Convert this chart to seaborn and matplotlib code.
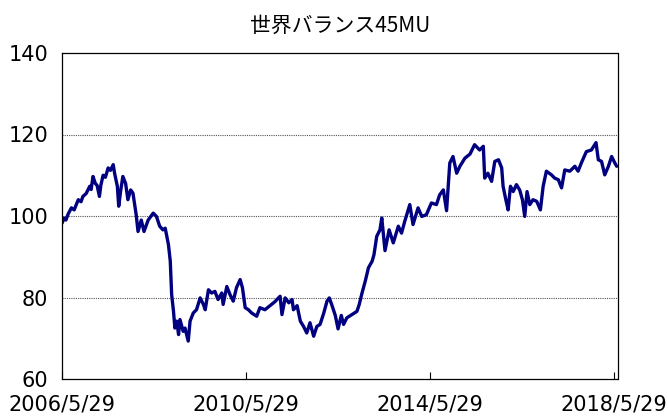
import matplotlib
matplotlib.use("Agg")
import matplotlib.pyplot as plt
import seaborn as sns
import pandas as pd
import numpy as np

# Time (decimal years) and index value
years = [
    2006.41, 2006.45, 2006.49, 2006.54, 2006.61, 2006.67, 2006.76, 2006.82, 2006.86, 2006.93,
    2007.01, 2007.04, 2007.08, 2007.13, 2007.17, 2007.22, 2007.25, 2007.30, 2007.35, 2007.41,
    2007.46, 2007.52, 2007.55, 2007.61, 2007.64, 2007.68, 2007.73, 2007.79, 2007.84, 2007.90,
    2007.95, 2008.02, 2008.06, 2008.13, 2008.19, 2008.28, 2008.39, 2008.46, 2008.53, 2008.60,
    2008.65, 2008.72, 2008.76, 2008.79, 2008.83, 2008.86, 2008.90, 2008.94, 2008.97, 2009.04,
    2009.08, 2009.15, 2009.19, 2009.26, 2009.33, 2009.41, 2009.48, 2009.52, 2009.59, 2009.66,
    2009.73, 2009.80, 2009.88, 2009.91, 2009.99, 2010.06, 2010.13, 2010.20, 2010.28, 2010.33,
    2010.39, 2010.46, 2010.53, 2010.64, 2010.71, 2010.82, 2010.93, 2011.04, 2011.08, 2011.15,
    2011.19, 2011.26, 2011.34, 2011.41, 2011.44, 2011.52, 2011.59, 2011.66, 2011.73, 2011.80,
    2011.88, 2011.95, 2012.02, 2012.10, 2012.17, 2012.22, 2012.28, 2012.35, 2012.41, 2012.48,
    2012.53, 2012.60, 2012.71, 2012.82, 2012.87, 2012.93, 2013.00, 2013.07, 2013.15, 2013.19,
    2013.25, 2013.32, 2013.36, 2013.43, 2013.52, 2013.61, 2013.72, 2013.79, 2013.86, 2013.97,
    2014.04, 2014.15, 2014.23, 2014.33, 2014.44, 2014.55, 2014.62, 2014.70, 2014.77, 2014.84,
    2014.91, 2014.99, 2015.06, 2015.17, 2015.28, 2015.38, 2015.49, 2015.57, 2015.60, 2015.67,
    2015.75, 2015.82, 2015.90, 2015.97, 2016.00, 2016.06, 2016.11, 2016.16, 2016.22, 2016.29,
    2016.36, 2016.42, 2016.47, 2016.52, 2016.58, 2016.65, 2016.73, 2016.81, 2016.87, 2016.94,
    2017.05, 2017.12, 2017.20, 2017.27, 2017.34, 2017.45, 2017.56, 2017.63, 2017.70, 2017.81,
    2017.92, 2018.02, 2018.07, 2018.14, 2018.21, 2018.29, 2018.36, 2018.43, 2018.47,
]
values = [
    98.3, 99.5, 99.0, 100.5, 102.0, 101.5, 104.0, 103.5, 104.8, 105.5,
    107.3, 106.5, 109.7, 108.0, 107.5, 104.8, 107.5, 110.0, 109.5, 111.8,
    111.2, 112.6, 110.5, 107.3, 102.4, 106.0, 109.7, 108.0, 104.0, 106.4,
    105.6, 100.3, 96.2, 99.0, 96.2, 99.0, 100.7, 99.9, 97.5, 96.6,
    97.0, 93.0, 88.9, 80.7, 76.6, 72.5, 74.2, 70.9, 74.6, 71.7,
    72.5, 69.3, 74.2, 76.2, 77.0, 79.9, 78.3, 77.0, 81.9, 81.1,
    81.5, 79.5, 81.1, 78.3, 82.7, 80.7, 79.1, 82.4, 84.4, 82.4,
    77.5, 77.0, 76.2, 75.4, 77.5, 77.0, 78.0, 79.0, 79.5, 80.3,
    75.8, 79.9, 78.7, 79.5, 77.0, 78.0, 74.2, 72.9, 71.3, 73.8,
    70.5, 72.9, 73.4, 76.2, 79.1, 79.9, 78.0, 75.6, 72.3, 75.6,
    73.4, 75.0, 75.8, 76.6, 78.3, 81.1, 84.0, 87.3, 88.9, 90.5,
    95.0, 96.6, 99.5, 91.5, 96.6, 93.4, 97.5, 95.8, 98.7, 102.8,
    97.9, 102.0, 99.9, 100.3, 103.2, 102.8, 105.2, 106.4, 101.3, 113.0,
    114.6, 110.5, 112.2, 114.2, 115.2, 117.5, 116.2, 117.1, 109.3, 110.5,
    108.5, 113.4, 113.8, 111.8, 107.3, 104.0, 101.5, 107.3, 106.0, 107.7,
    106.4, 104.0, 99.9, 106.0, 102.8, 104.0, 103.6, 101.5, 107.3, 111.0,
    110.1, 109.3, 108.9, 106.9, 111.3, 111.0, 112.2, 111.0, 113.0, 115.8,
    116.2, 118.0, 113.8, 113.4, 110.1, 112.2, 114.6, 113.0, 112.2,
]
tick_dates = ["2006-05-29", "2010-05-29", "2014-05-29", "2018-05-29"]
tick_labels = ["2006/5/29", "2010/5/29", "2014/5/29", "2018/5/29"]
y_ticks = [60, 80, 100, 120, 140]
title = "世界バランス45MU"


def to_date(y):
    yr = int(np.floor(y))
    start = pd.Timestamp(year=yr, month=1, day=1)
    days = (pd.Timestamp(year=yr + 1, month=1, day=1) - start).days
    return start + pd.Timedelta(days=(y - yr) * days)


df = pd.DataFrame({"date": [to_date(y) for y in years], "value": values})

sns.set_style("white")
plt.rcParams["font.family"] = ["DejaVu Sans"]

fig = plt.figure(figsize=(6.68, 4.16), dpi=100)
ax = fig.add_axes([62 / 668, 1 - 379 / 416, (617.5 - 62) / 668, (379 - 53) / 416])

sns.lineplot(data=df, x="date", y="value", ax=ax, color="#000080", linewidth=2.4)

ax.set_ylim(60, 140)
ax.set_yticks(y_ticks)
ax.set_xlim(pd.Timestamp("2006-05-29"), pd.Timestamp("2018-06-28"))
ax.set_xticks([pd.Timestamp(d) for d in tick_dates])
ax.set_xticklabels(tick_labels)
ax.set_xlabel("")
ax.set_ylabel("")

for v in [80, 100, 120]:
    ax.axhline(v, color="#555555", linestyle=(0, (1, 1)), linewidth=0.8, zorder=0)

for s in ax.spines.values():
    s.set_visible(True)
    s.set_color("black")
    s.set_linewidth(0.9)

ax.tick_params(axis="y", length=0, pad=10, labelsize=15, colors="black")
ax.tick_params(axis="x", direction="in", length=5, width=0.8, pad=11,
               labelsize=15, colors="black")
ax.tick_params(axis="x", which="both", bottom=True)

ax.set_title(title, family=["Noto Sans CJK JP", "DejaVu Sans"], fontsize=15,
             color="black", pad=15)

fig.savefig("out.png", dpi=100)
